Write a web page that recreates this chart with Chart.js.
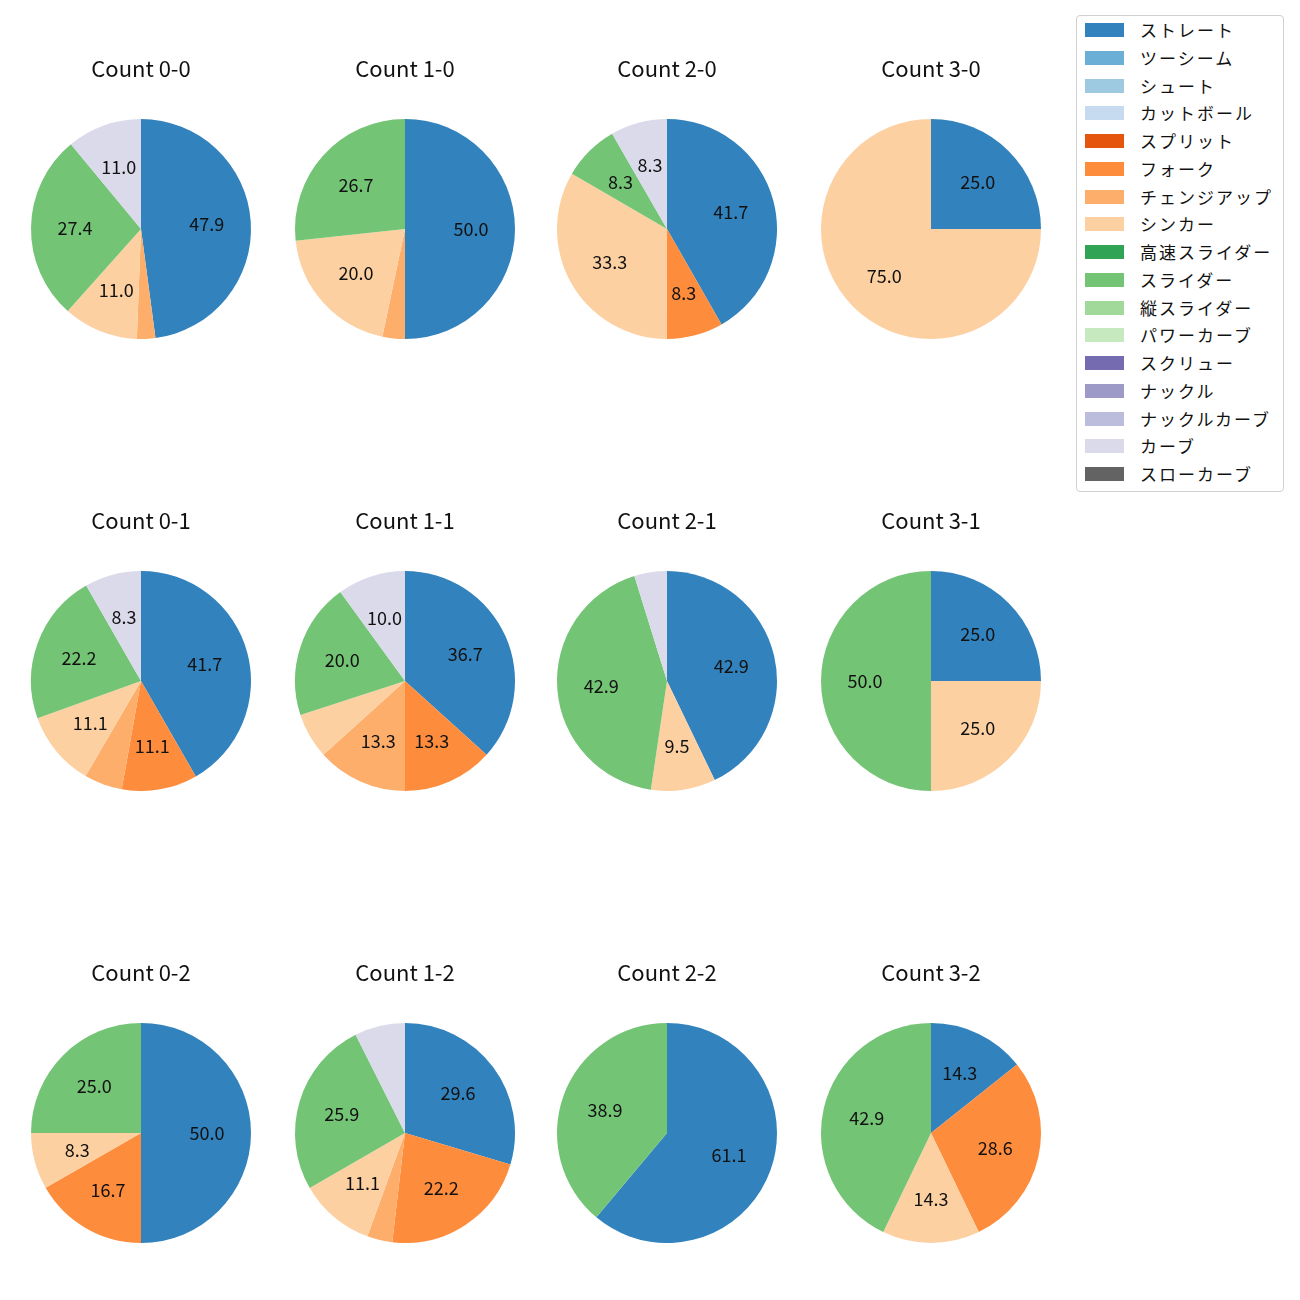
<!DOCTYPE html>
<html>
<head>
<meta charset="utf-8">
<script src="https://cdn.jsdelivr.net/npm/chart.js@4/dist/chart.umd.min.js"></script>
<style>
  body { margin: 0; background: #fff; font-family: "Noto Sans CJK JP", "Noto Sans", sans-serif; }
  #page { position: relative; width: 1300px; height: 1300px; }
  .pie { position: absolute; width: 240px; height: 299px; }
  #legend {
    position: absolute; left: 1076px; top: 15px; width: 208px; height: 477px;
    border: 1px solid #d0d0d0; border-radius: 4px; box-sizing: border-box;
  }
  .item { position: absolute; left: 0; height: 20px; font-size: 17px; letter-spacing: 2px; color: #111; }
  .item span.sw { position: absolute; left: 8px; top: 3px; width: 39px; height: 14px; }
  .item span.tx { position: absolute; left: 63px; top: 0; white-space: nowrap; line-height: 20px; }
</style>
</head>
<body>
<div id="page">
  <div id="legend"></div>
</div>
<script>
// 球種と色
const pitchTypes = ['ストレート', 'ツーシーム', 'シュート', 'カットボール', 'スプリット', 'フォーク',
    'チェンジアップ', 'シンカー', '高速スライダー', 'スライダー', '縦スライダー', 'パワーカーブ',
    'スクリュー', 'ナックル', 'ナックルカーブ', 'カーブ', 'スローカーブ'];
const pitchColors = ['#3182bd', '#6baed6', '#9ecae1', '#c6dbef', '#e6550d', '#fd8d3c',
    '#fdae6b', '#fdd0a2', '#31a354', '#74c476', '#a1d99b', '#c7e9c0',
    '#756bb1', '#9e9ac8', '#bcbddc', '#dadaeb', '#636363'];

// カウント別の割合 (%), pitchTypes と同じ順番
const countTitles = ['Count 0-0', 'Count 1-0', 'Count 2-0', 'Count 3-0',
    'Count 0-1', 'Count 1-1', 'Count 2-1', 'Count 3-1',
    'Count 0-2', 'Count 1-2', 'Count 2-2', 'Count 3-2'];
const count00 = [47.9, 0, 0, 0, 0, 0, 2.7, 11.0, 0, 27.4, 0, 0, 0, 0, 0, 11.0, 0];
const count10 = [50.0, 0, 0, 0, 0, 0, 3.3, 20.0, 0, 26.7, 0, 0, 0, 0, 0, 0, 0];
const count20 = [41.7, 0, 0, 0, 0, 8.3, 0, 33.3, 0, 8.3, 0, 0, 0, 0, 0, 8.3, 0];
const count30 = [25.0, 0, 0, 0, 0, 0, 0, 75.0, 0, 0, 0, 0, 0, 0, 0, 0, 0];
const count01 = [41.7, 0, 0, 0, 0, 11.1, 5.6, 11.1, 0, 22.2, 0, 0, 0, 0, 0, 8.3, 0];
const count11 = [36.7, 0, 0, 0, 0, 13.3, 13.3, 6.7, 0, 20.0, 0, 0, 0, 0, 0, 10.0, 0];
const count21 = [42.9, 0, 0, 0, 0, 0, 0, 9.5, 0, 42.9, 0, 0, 0, 0, 0, 4.8, 0];
const count31 = [25.0, 0, 0, 0, 0, 0, 0, 25.0, 0, 50.0, 0, 0, 0, 0, 0, 0, 0];
const count02 = [50.0, 0, 0, 0, 0, 16.7, 0, 8.3, 0, 25.0, 0, 0, 0, 0, 0, 0, 0];
const count12 = [29.6, 0, 0, 0, 0, 22.2, 3.7, 11.1, 0, 25.9, 0, 0, 0, 0, 0, 7.4, 0];
const count22 = [61.1, 0, 0, 0, 0, 0, 0, 0, 0, 38.9, 0, 0, 0, 0, 0, 0, 0];
const count32 = [14.3, 0, 0, 0, 0, 28.6, 0, 14.3, 0, 42.9, 0, 0, 0, 0, 0, 0, 0];
const countValues = [count00, count10, count20, count30, count01, count11, count21, count31,
    count02, count12, count22, count32];

// レイアウト
const colCenters = [141, 405, 667, 931];
const rowTops = [40, 492, 944];
const FONT = '"Noto Sans CJK JP", "Noto Sans", sans-serif';

/**
 * 扇形の中に割合を書くプラグイン (8%未満は省略)
 */
const pctLabels = {
    id: 'pctLabels',
    afterDatasetsDraw(chart) {
        const ctx = chart.ctx;
        const meta = chart.getDatasetMeta(0);
        const values = chart.data.datasets[0].data;
        ctx.save();
        ctx.font = '18px ' + FONT;
        ctx.fillStyle = '#111';
        ctx.textAlign = 'center';
        ctx.textBaseline = 'middle';
        meta.data.forEach((arc, i) => {
            if (values[i] < 8) return;
            const p = arc.getProps(['x', 'y', 'startAngle', 'endAngle', 'outerRadius'], true);
            const mid = (p.startAngle + p.endAngle) / 2;
            const r = p.outerRadius * 0.6;
            ctx.fillText(values[i].toFixed(1), p.x + Math.cos(mid) * r, p.y + Math.sin(mid) * r);
        });
        ctx.restore();
    }
};

const page = document.getElementById('page');
countValues.forEach((vals, idx) => {
    const col = idx % 4;
    const row = Math.floor(idx / 4);
    const canvas = document.createElement('canvas');
    canvas.className = 'pie';
    canvas.width = 240;
    canvas.height = 299;
    canvas.style.left = (colCenters[col] - 120) + 'px';
    canvas.style.top = rowTops[row] + 'px';
    page.appendChild(canvas);

    new Chart(canvas.getContext('2d'), {
        type: 'pie',
        data: {
            labels: pitchTypes,
            datasets: [{
                data: vals,
                backgroundColor: pitchColors,
                borderWidth: 0,
                hoverOffset: 0,
                offset: 0
            }]
        },
        options: {
            responsive: false,
            animation: false,
            layout: { padding: 0 },
            plugins: {
                legend: { display: false },
                tooltip: { enabled: false },
                title: {
                    display: true,
                    text: countTitles[idx],
                    color: '#111',
                    font: { family: FONT, size: 22, weight: 'normal', lineHeight: 1.2 },
                    padding: { top: 15.8, bottom: 36.8 }
                }
            }
        },
        plugins: [pctLabels]
    });
});

// 凡例
const legend = document.getElementById('legend');
pitchTypes.forEach((name, i) => {
    const item = document.createElement('div');
    item.className = 'item';
    item.style.top = (4 + i * 27.75) + 'px';
    item.innerHTML = `<span class="sw" style="background:${pitchColors[i]}"></span><span class="tx">${name}</span>`;
    legend.appendChild(item);
});
</script>
</body>
</html>
